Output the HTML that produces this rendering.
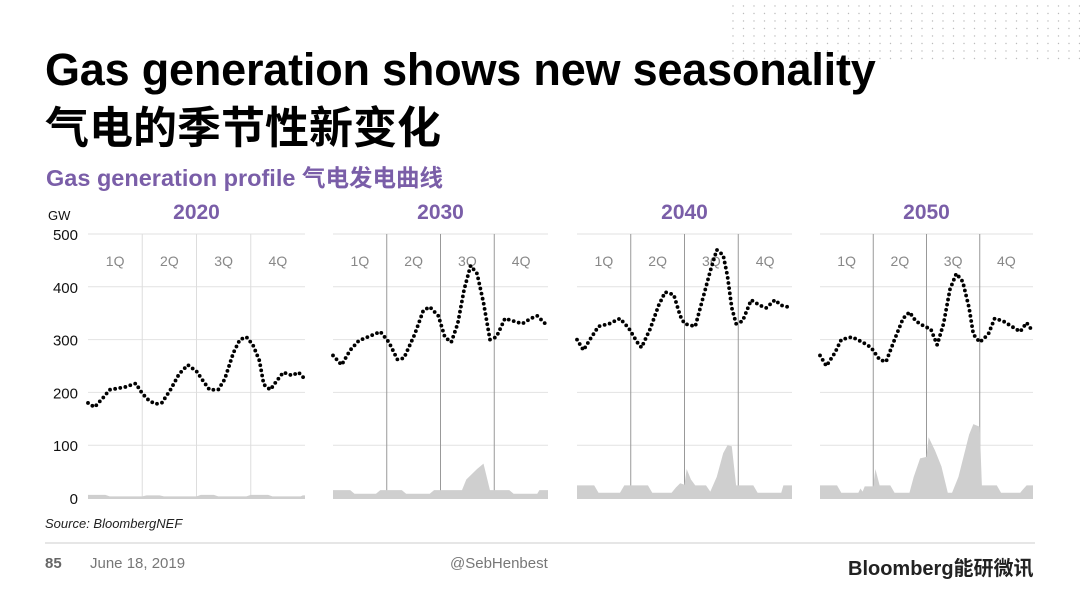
<!DOCTYPE html>
<html><head><meta charset="utf-8"><style>
body{margin:0;width:1080px;height:608px;background:#fff;overflow:hidden;position:relative;font-family:"Liberation Sans","Noto Sans CJK SC",sans-serif}
.t{position:absolute;white-space:nowrap}
</style></head><body>
<svg width="1080" height="608" style="position:absolute;left:0;top:0" id="s"></svg>
<div class="t" style="left:45px;top:44px;font-size:45px;font-weight:bold;color:#000;letter-spacing:-0.2px">Gas generation shows new seasonality</div>
<div class="t" style="left:45px;top:92px;font-size:44px;font-weight:bold;color:#000">气电的季节性新变化</div>
<div class="t" style="left:46px;top:159px;font-size:23.5px;font-weight:bold;color:#7a5ea8">Gas generation profile 气电发电曲线</div>
<div class="t" style="left:45px;top:516px;font-size:13px;font-style:italic;color:#222">Source: BloombergNEF</div>
<div class="t" style="left:45px;top:555px;font-size:15px;font-weight:bold;color:#666">85</div>
<div class="t" style="left:90px;top:555px;font-size:15px;color:#777">June 18, 2019</div>
<div class="t" style="left:450px;top:555px;font-size:15px;color:#777">@SebHenbest</div>
<div class="t" style="left:848px;top:552px;font-size:20px;font-weight:bold;color:#222">Bloomberg能研微讯</div>
<script>
const s=document.getElementById('s');let h='';
for(let y=6;y<62;y+=7.5)for(let x=733;x<1080;x+=10.5)h+=`<circle cx="${x}" cy="${y}" r="0.7" fill="#bbb"/>`;
h+=`<line x1="45" y1="543" x2="1035" y2="543" stroke="#ccc"/>`;
const Y=v=>498-v*0.528;
for(const v of [0,100,200,300,400,500])h+=`<text x="78" y="${Y(v)+6}" font-size="15" text-anchor="end" fill="#111">${v}</text>`;
h+=`<text x="48" y="220" font-size="13" fill="#111">GW</text>`;
const P=[
{x:88,w:217,yr:'2020',
 l:[[0,180],[.03,172],[.07,190],[.1,205],[.17,210],[.22,217],[.25,198],[.28,185],[.31,178],[.34,180],[.38,205],[.42,235],[.46,252],[.5,240],[.53,222],[.56,205],[.6,205],[.63,225],[.67,275],[.7,300],[.73,305],[.76,290],[.79,260],[.81,215],[.84,205],[.87,222],[.9,238],[.94,232],[.97,238],[1,225]],
 a:[[0,6],[.08,6],[.1,3],[.25,3],[.27,5],[.33,5],[.35,3],[.5,3],[.52,6],[.58,6],[.6,3],[.73,3],[.75,6],[.83,6],[.85,3],[.98,3],[.99,5],[1,5]]},
{x:333,w:215,yr:'2030',
 l:[[0,270],[.04,252],[.08,280],[.12,298],[.18,308],[.22,315],[.26,295],[.3,262],[.33,265],[.38,310],[.42,355],[.45,362],[.49,345],[.52,305],[.55,295],[.58,330],[.61,395],[.64,440],[.67,425],[.7,370],[.73,300],[.76,305],[.8,340],[.84,335],[.88,330],[.92,340],[.95,345],[1,325]],
 a:[[0,15],[.08,15],[.1,8],[.2,8],[.22,15],[.32,15],[.34,8],[.45,8],[.47,15],[.6,15],[.62,35],[.67,55],[.7,65],[.73,15],[.82,15],[.84,8],[.95,8],[.96,15],[1,15]]},
{x:577,w:215,yr:'2040',
 l:[[0,300],[.03,280],[.06,300],[.1,325],[.15,330],[.2,340],[.24,322],[.28,295],[.3,285],[.34,320],[.38,365],[.41,390],[.45,385],[.48,345],[.5,330],[.55,325],[.58,370],[.62,430],[.65,470],[.68,460],[.7,420],[.72,360],[.74,330],[.77,335],[.81,375],[.85,365],[.88,360],[.92,375],[.95,365],[1,360]],
 a:[[0,24],[.08,24],[.1,10],[.2,10],[.22,24],[.33,24],[.35,10],[.44,10],[.46,20],[.48,28],[.5,25],[.51,55],[.53,35],[.55,24],[.6,24],[.62,12],[.65,40],[.68,85],[.7,100],[.72,98],[.74,24],[.82,24],[.84,10],[.95,10],[.96,24],[1,24]]},
{x:820,w:213,yr:'2050',
 l:[[0,270],[.03,250],[.07,275],[.1,300],[.15,305],[.2,295],[.24,285],[.28,262],[.31,258],[.35,300],[.39,340],[.42,352],[.45,335],[.49,325],[.52,320],[.55,290],[.58,330],[.61,395],[.64,425],[.67,410],[.7,360],[.72,310],[.75,295],[.79,310],[.82,340],[.86,335],[.9,325],[.94,315],[.97,332],[1,315]],
 a:[[0,24],[.08,24],[.1,10],[.18,10],[.19,18],[.2,12],[.21,22],[.25,22],[.26,55],[.28,24],[.33,24],[.35,10],[.42,10],[.44,40],[.47,75],[.5,78],[.51,115],[.54,90],[.57,60],[.6,10],[.62,10],[.65,40],[.7,120],[.72,140],[.75,135],[.76,24],[.83,24],[.85,10],[.94,10],[.95,15],[.97,24],[1,24]]}
];
for(const p of P){
 const X=f=>p.x+f*p.w;
 for(const v of [100,200,300,400,500])h+=`<line x1="${p.x}" y1="${Y(v)}" x2="${p.x+p.w}" y2="${Y(v)}" stroke="#e2e2e2"/>`;
 for(const f of [.25,.5,.75])h+=`<line x1="${X(f)}" y1="${Y(500)}" x2="${X(f)}" y2="499" stroke="${p.yr=='2020'?'#ddd':'#999'}"/>`;
 ['1Q','2Q','3Q','4Q'].forEach((q,i)=>h+=`<text x="${X(i*.25+.125)}" y="266" font-size="14" text-anchor="middle" fill="#888">${q}</text>`);
 h+=`<text x="${X(.5)}" y="219" font-size="21" font-weight="bold" text-anchor="middle" fill="#7a5ea8">${p.yr}</text>`;
 let d=`M${X(0)},${Y(0)+1}`;for(const [f,v] of p.a)d+=` L${X(f)},${Y(v)}`;d+=` L${X(1)},${Y(0)+1}Z`;
 h+=`<path d="${d}" fill="#cfcfcf"/>`;
 let pts=p.l.map(([f,v])=>[X(f),Y(v)]);let acc=0,step=5.2;
 for(let i=0;i<pts.length-1;i++){const[x1,y1]=pts[i],[x2,y2]=pts[i+1];const L=Math.hypot(x2-x1,y2-y1);let t=acc;while(t<=L){const r=t/L;h+=`<circle cx="${x1+(x2-x1)*r}" cy="${y1+(y2-y1)*r}" r="1.9" fill="#000"/>`;t+=step}acc=t-L;}
}
s.innerHTML=h;
</script>
</body></html>
